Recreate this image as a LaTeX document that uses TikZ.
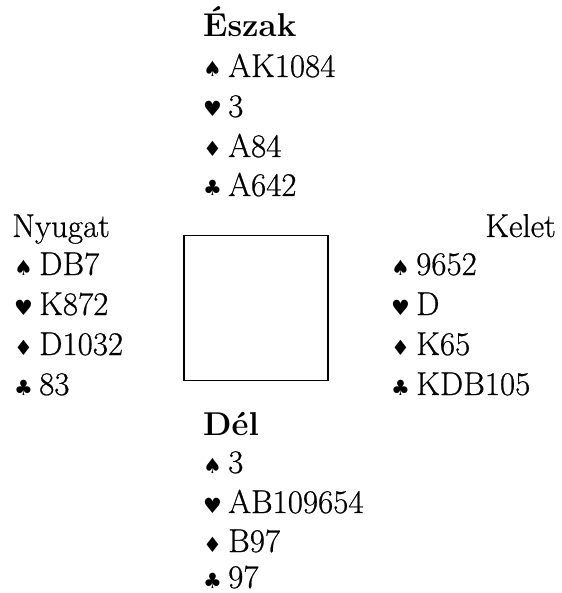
\documentclass[tikz,border=0pt]{standalone}
\usepackage{fontspec}
\setmainfont{Latin Modern Roman}[UprightFeatures={FakeBold=0.6}]
\newfontfamily\suitfont{DejaVu Sans}
\begin{document}
\begin{tikzpicture}[x=1pt,y=-1pt,
  txt/.style={inner sep=0pt,anchor=base west,font=\fontsize{33}{38}\selectfont},
  hdr/.style={txt,font=\fontsize{33}{38}\selectfont\bfseries},
  suit/.style={inner sep=0pt,anchor=base west,font=\suitfont\fontsize{21}{24}\selectfont}]
\useasboundingbox (0,0) rectangle (561,593);
% table
\node[draw,line width=1.3pt,minimum width=144pt,minimum height=145pt,inner sep=0pt] (table) at (256,308) {};
% North
\node[hdr] (nh) at (203,37) {Észak};
\node[suit] (ns) at (203,77) {♠}; \node[txt] (nsc) at (228,77) {AK1084};
\node[suit] (nhh) at (203,117) {♥}; \node[txt] (nhc) at (228,117) {3};
\node[suit] (nd) at (203,157) {♦}; \node[txt] (ndc) at (228,157) {A84};
\node[suit] (nc) at (203,196) {♣}; \node[txt] (ncc) at (228,196) {A642};
% West
\node[txt] (wh) at (12,237) {Nyugat};
\node[suit] (ws) at (14,275) {♠}; \node[txt] (wsc) at (39,275) {DB7};
\node[suit] (whh) at (14,315) {♥}; \node[txt] (whc) at (39,315) {K872};
\node[suit] (wd) at (14,355) {♦}; \node[txt] (wdc) at (39,355) {D1032};
\node[suit] (wc) at (14,395) {♣}; \node[txt] (wcc) at (39,395) {83};
% East
\node[txt,anchor=base east] (eh) at (556,237) {Kelet};
\node[suit] (es) at (391,275) {♠}; \node[txt] (esc) at (416,275) {9652};
\node[suit] (ehh) at (391,315) {♥}; \node[txt] (ehc) at (416,315) {D};
\node[suit] (ed) at (391,355) {♦}; \node[txt] (edc) at (416,355) {K65};
\node[suit] (ec) at (391,395) {♣}; \node[txt] (ecc) at (416,395) {KDB105};
% South
\node[hdr] (sh) at (203,435) {Dél};
\node[suit] (ss) at (203,473) {♠}; \node[txt] (ssc) at (228,473) {3};
\node[suit] (shh) at (203,513) {♥}; \node[txt] (shc) at (228,513) {AB109654};
\node[suit] (sd) at (203,552) {♦}; \node[txt] (sdc) at (228,552) {B97};
\node[suit] (sc) at (203,588) {♣}; \node[txt] (scc) at (228,588) {97};
\end{tikzpicture}
\end{document}
